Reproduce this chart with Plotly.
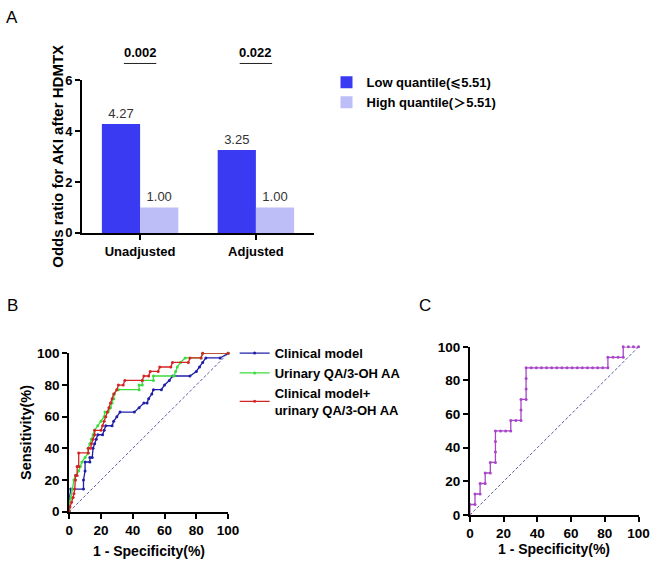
import plotly.graph_objects as go

# ---------------- Data ----------------
# Panel A: odds ratios
categories = ["Unadjusted", "Adjusted"]
low_quantile = [4.27, 3.25]
high_quantile = [1.00, 1.00]
p_values = ["0.002", "0.022"]
a_yticks = [0, 2, 4, 6]
series_names = ["Low quantile(⩽5.51)", "High quantile(＞5.51)"]

# Panel B: ROC curves (1-specificity %, sensitivity %)
clin_fpr = [0, 0, 1, 9, 9, 10, 10, 13, 13, 14.5, 15, 16, 17, 18, 21, 22, 23, 27, 28, 30, 32,
            41, 44, 47, 49, 50, 52, 53, 58, 60, 63, 65, 76, 80, 82, 84, 86, 95, 100]
clin_tpr = [0, 8.6, 14.3, 14.3, 20, 25.7, 31.4, 31.4, 34.3, 34.3, 40, 42.9, 45.7, 48.6, 48.6, 51.4, 54.3,
            54.3, 57.1, 60, 62.9, 62.9, 65.7, 68.6, 68.6, 71.4, 74.3, 77.1, 77.1, 80, 82.9, 85.7,
            85.7, 88.6, 91.4, 94.3, 97.1, 97.1, 100]

uqa_fpr = [0, 0, 1, 2, 3, 4, 6, 7, 8, 10, 12, 12, 13, 14, 15, 16, 18, 20, 22, 22.5, 24.5, 26, 27,
           28, 28.5, 30, 31, 44, 44, 46, 46, 53, 53, 66, 67, 68, 70, 73, 83, 84, 100]
uqa_tpr = [0, 5.7, 8.6, 14.3, 20, 22.9, 25.7, 28.6, 31.4, 34.3, 37.1, 40, 42.9, 45.7, 48.6, 51.4,
           54.3, 57.1, 60, 62.9, 62.9, 65.7, 68.6, 71.4, 74.3, 77.1, 77.1, 77.1, 80, 80, 82.9, 82.9,
           85.7, 85.7, 88.6, 91.4, 94.3, 97.1, 97.1, 100, 100]

comb_fpr = [0, 0.5, 1.5, 2.5, 3, 3.5, 4, 4, 5, 5, 6, 6, 12, 12, 13.5, 14, 15, 16, 16, 20, 21, 22,
            23, 24, 25, 26, 27, 28, 30, 31, 34, 35, 46, 47, 50, 51, 56, 57, 64, 65, 75, 76, 83, 84, 100]
comb_tpr = [0, 3, 6, 9, 11.4, 14.3, 20, 22.9, 22.9, 28.6, 28.6, 37.1, 37.1, 40, 40, 42.9, 45.7,
            48.6, 51.4, 51.4, 54.3, 57.1, 60, 62.9, 65.7, 68.6, 71.4, 74.3, 77.1, 80, 80, 82.9,
            82.9, 85.7, 85.7, 88.6, 88.6, 91.4, 91.4, 94.3, 94.3, 97.1, 97.1, 100, 100]

b_names = ["Clinical model", "Urinary QA/3-OH AA", "Clinical model+<br>urinary QA/3-OH AA"]

# Panel C: ROC curve
c_fpr = [0, 0, 3.03, 3.03, 6.06, 6.06, 9.09, 9.09, 12.12, 12.12, 15.15, 15.15, 15.15, 15.15,
         18.18, 21.21, 24.24, 24.24, 27.27, 30.30, 30.30, 30.30, 33.33, 33.33, 33.33, 33.33,
         36.36, 39.39, 42.42, 45.45, 48.48, 51.52, 54.55, 57.58, 60.61, 63.64, 66.67, 69.70,
         72.73, 75.76, 78.79, 81.82, 81.82, 84.85, 87.88, 90.91, 90.91, 93.94, 96.97, 100]
c_tpr = [0, 6.25, 6.25, 12.5, 12.5, 18.75, 18.75, 25, 25, 31.25, 31.25, 37.5, 43.75, 50,
         50, 50, 50, 56.25, 56.25, 56.25, 62.5, 68.75, 68.75, 75, 81.25, 87.5,
         87.5, 87.5, 87.5, 87.5, 87.5, 87.5, 87.5, 87.5, 87.5, 87.5, 87.5, 87.5,
         87.5, 87.5, 87.5, 87.5, 93.75, 93.75, 93.75, 93.75, 100, 100, 100, 100]

roc_ticks = [0, 20, 40, 60, 80, 100]
chance = [0, 100]

# ---------------- Styling ----------------
W, H = 661, 572
FONT = "Liberation Sans, Arial, Noto Sans CJK SC, DejaVu Sans, sans-serif"
DARK_BLUE = "#3a3af2"
LIGHT_BLUE = "#bdbdf7"
B_COLORS = ["#1f1fa8", "#3cdc3c", "#d42424"]
C_COLOR = "#a845c8"
DIAG = "#5a5aaa"


def fx(p):
    return p / W


def fy(p):
    return 1 - p / H


fig = go.Figure()

# Panel A bars
for vals, name, col in [(low_quantile, series_names[0], DARK_BLUE),
                        (high_quantile, series_names[1], LIGHT_BLUE)]:
    fig.add_trace(go.Bar(
        x=categories, y=vals, name=name, marker=dict(color=col, line=dict(width=0)),
        text=[f"{v:.2f}" for v in vals], textposition="outside",
        textfont=dict(size=13, color="#333333", family=FONT), cliponaxis=False,
        xaxis="x", yaxis="y", legend="legend"))

# Panel B
fig.add_trace(go.Scatter(x=chance, y=chance, mode="lines", showlegend=False,
                         line=dict(color=DIAG, width=1, dash="3px,2px"),
                         xaxis="x2", yaxis="y2", hoverinfo="skip"))
for xs, ys, name, col in [(clin_fpr, clin_tpr, b_names[0], B_COLORS[0]),
                          (uqa_fpr, uqa_tpr, b_names[1], B_COLORS[1]),
                          (comb_fpr, comb_tpr, b_names[2], B_COLORS[2])]:
    fig.add_trace(go.Scatter(x=xs, y=ys, mode="lines+markers", name=name,
                             line=dict(color=col, width=1.3),
                             marker=dict(color=col, size=3),
                             cliponaxis=False, xaxis="x2", yaxis="y2", legend="legend2"))

# Panel C
fig.add_trace(go.Scatter(x=chance, y=chance, mode="lines", showlegend=False,
                         line=dict(color=DIAG, width=1, dash="3px,2px"),
                         xaxis="x3", yaxis="y3", hoverinfo="skip"))
fig.add_trace(go.Scatter(x=c_fpr, y=c_tpr, mode="lines+markers", showlegend=False,
                         line=dict(color=C_COLOR, width=1.3),
                         marker=dict(color=C_COLOR, size=3),
                         cliponaxis=False, xaxis="x3", yaxis="y3"))

axis_common = dict(showline=True, linecolor="black", linewidth=2, ticks="outside",
                   ticklen=5, tickwidth=2, tickcolor="black", showgrid=False, zeroline=False,
                   tickfont=dict(size=13, family=FONT, color="black", weight="bold"))
roc_axis = dict(axis_common, range=[0, 100], tickvals=roc_ticks,
                tickfont=dict(size=13.5, family=FONT, color="black", weight="bold"))


def note(text, x, y, size, weight="normal", angle=0, xanchor="center"):
    return dict(text=text, x=fx(x), y=fy(y), xref="paper", yref="paper", textangle=angle,
                xanchor=xanchor, yanchor="middle", showarrow=False,
                font=dict(size=size, family=FONT, color="black", weight=weight))


annotations = [
    note("A", 0, 10.5, 17, xanchor="left"),
    note("B", 1, 306.5, 17, xanchor="left"),
    note("C", 423, 306.5, 17, xanchor="left"),
    note("Odds ratio for AKI after HDMTX", 55, 153, 15, "bold", -90),
    note("Sensitivity(%)", 22, 437, 14.5, "bold", -90),
    note("1 - Specificity(%)", 148, 559, 14, "bold"),
    note("1 - Specificity(%)", 563, 557, 14, "bold"),
]
shapes = []
for i, p in enumerate(p_values):
    annotations.append(dict(text=p, x=i, xref="x", y=fy(47), yref="paper",
                            xanchor="center", yanchor="middle", showarrow=False,
                            font=dict(size=13, family=FONT, color="black", weight="bold")))
    shapes.append(dict(type="line", xref="x", yref="paper", x0=i - 0.14, x1=i + 0.14,
                       y0=fy(58), y1=fy(58), line=dict(color="#222222", width=1)))

fig.update_layout(
    width=W, height=H, margin=dict(l=0, r=0, t=0, b=0),
    paper_bgcolor="white", plot_bgcolor="white",
    font=dict(family=FONT, color="black"),
    barmode="group", bargap=0.34, bargroupgap=0,
    xaxis=dict(axis_common, domain=[fx(80), fx(317)], anchor="y", type="category",
               range=[-0.5, 1.5]),
    yaxis=dict(axis_common, domain=[fy(232), fy(75)], anchor="x", range=[0, 6],
               tickvals=a_yticks),
    xaxis2=dict(roc_axis, domain=[fx(66.7), fx(229.3)], anchor="y2"),
    yaxis2=dict(roc_axis, domain=[fy(518.3), fy(355.7)], anchor="x2"),
    xaxis3=dict(roc_axis, domain=[fx(476.7), fx(649.3)], anchor="y3"),
    yaxis3=dict(roc_axis, domain=[fy(521.7), fy(349)], anchor="x3"),
    legend=dict(x=fx(330), y=fy(62), xanchor="left", yanchor="top", bgcolor="rgba(0,0,0,0)",
                font=dict(size=13, family=FONT, color="black", weight="bold"),
                traceorder="normal"),
    legend2=dict(x=fx(236), y=fy(340), xanchor="left", yanchor="top", bgcolor="rgba(0,0,0,0)",
                 font=dict(size=13, family=FONT, color="black", weight="bold"),
                 traceorder="normal"),
    annotations=annotations, shapes=shapes, showlegend=True,
)

fig.write_html("out.html", config={"displayModeBar": False},
               post_script="document.body.style.margin='0';")
